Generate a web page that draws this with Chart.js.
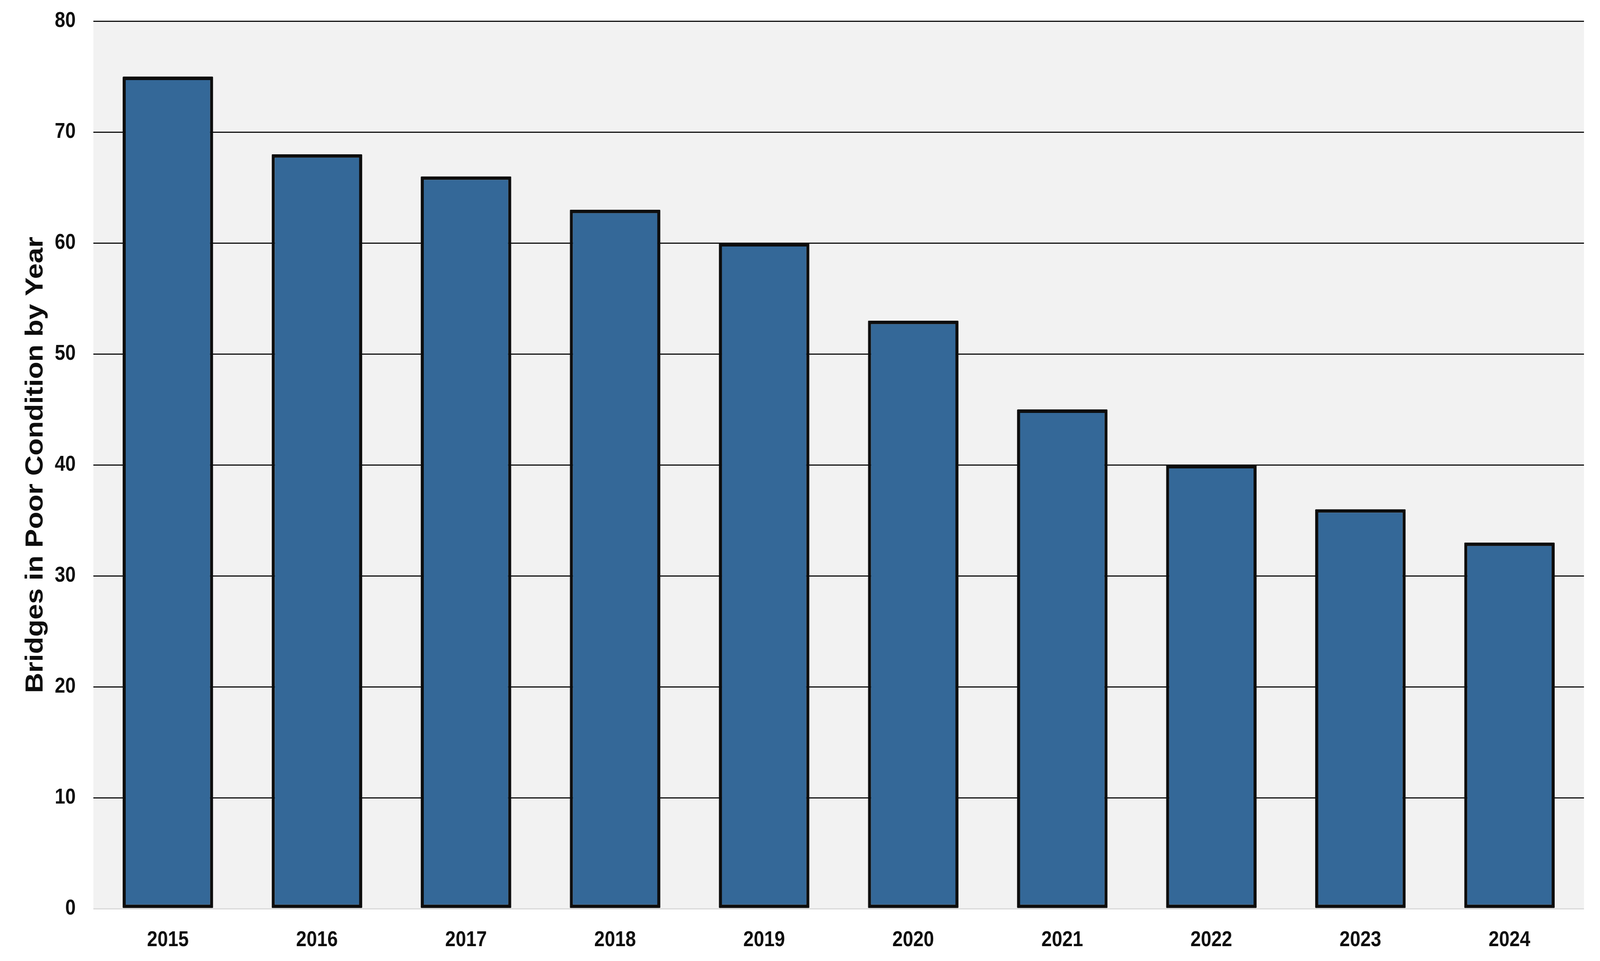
<!DOCTYPE html>
<html>
<head>
<meta charset="utf-8">
<script src="https://cdn.jsdelivr.net/npm/chart.js@4"></script>
<style>
  html, body { margin: 0; padding: 0; background: #ffffff; overflow: hidden; }
  #wrap { width: 4696px; height: 2460px; transform-origin: 0 0; }
  canvas { display: block; }
</style>
</head>
<body>
<div id="wrap"><canvas id="chart" width="4696" height="2460"></canvas></div>
<script>
// data
const years = ["2015", "2016", "2017", "2018", "2019", "2020", "2021", "2022", "2023", "2024"];
const poorBridges = [75, 68, 66, 63, 60, 53, 45, 40, 36, 33];
const yTicks = [0, 10, 20, 30, 40, 50, 60, 70, 80];
const yTitle = "Bridges in Poor Condition by Year";

// the chart is laid out at 4696 x 2460, then fitted to the real window
// (the window comes out narrower than asked, so squeeze instead of cropping)
const wrap = document.getElementById('wrap');
wrap.style.transform = 'scale(' + (window.innerWidth / 4696) + ',' + (window.innerHeight / 2460) + ')';

// gray plot background
const plotBg = {
    id: 'plotBg',
    beforeDraw(chart) {
        const a = chart.chartArea;
        const ctx = chart.ctx;
        ctx.save();
        ctx.fillStyle = '#f2f2f2';
        ctx.fillRect(a.left, a.top, a.right - a.left, a.bottom - a.top);
        ctx.restore();
    }
};

const font = 'Liberation Sans';

new Chart(document.getElementById('chart'), {
    type: 'bar',
    data: {
        labels: years,
        datasets: [{
            data: poorBridges,
            backgroundColor: '#346898',
            borderColor: '#0d0d0d',
            borderWidth: 9,
            borderSkipped: false,
            borderRadius: 2,
            barPercentage: 0.607,
            categoryPercentage: 1
        }]
    },
    options: {
        responsive: false,
        animation: false,
        devicePixelRatio: 1,
        layout: { padding: { top: 54, right: 47, left: 0, bottom: 0 } },
        plugins: {
            legend: { display: false },
            tooltip: { enabled: false }
        },
        scales: {
            x: {
                grid: { display: false },
                border: { display: false },
                ticks: {
                    color: '#0d0d0d',
                    font: { family: font, size: 55, weight: 'bold' },
                    padding: 40,
                    maxRotation: 0
                },
                afterFit(scale) { scale.height = 134; }
            },
            y: {
                min: 0,
                max: 80,
                afterBuildTicks(scale) { scale.ticks = yTicks.map(v => ({ value: v })); },
                grid: {
                    color: ctx => ctx.tick && ctx.tick.value === 0 ? '#d9d9d9' : '#111111',
                    lineWidth: 3,
                    drawTicks: false
                },
                border: { display: false },
                ticks: {
                    color: '#0d0d0d',
                    font: { family: font, size: 55, weight: 'bold' },
                    padding: 52
                },
                title: {
                    display: true,
                    text: yTitle,
                    color: '#0d0d0d',
                    font: { family: font, size: 72, weight: 'bold' },
                    padding: { top: 62, bottom: 0 }
                },
                afterFit(scale) {
                    scale.width = 274;
                    // tick padding would otherwise push the plot top down
                    scale.paddingTop = 0;
                    scale.paddingBottom = 0;
                }
            }
        }
    },
    plugins: [plotBg]
});
</script>
</body>
</html>
